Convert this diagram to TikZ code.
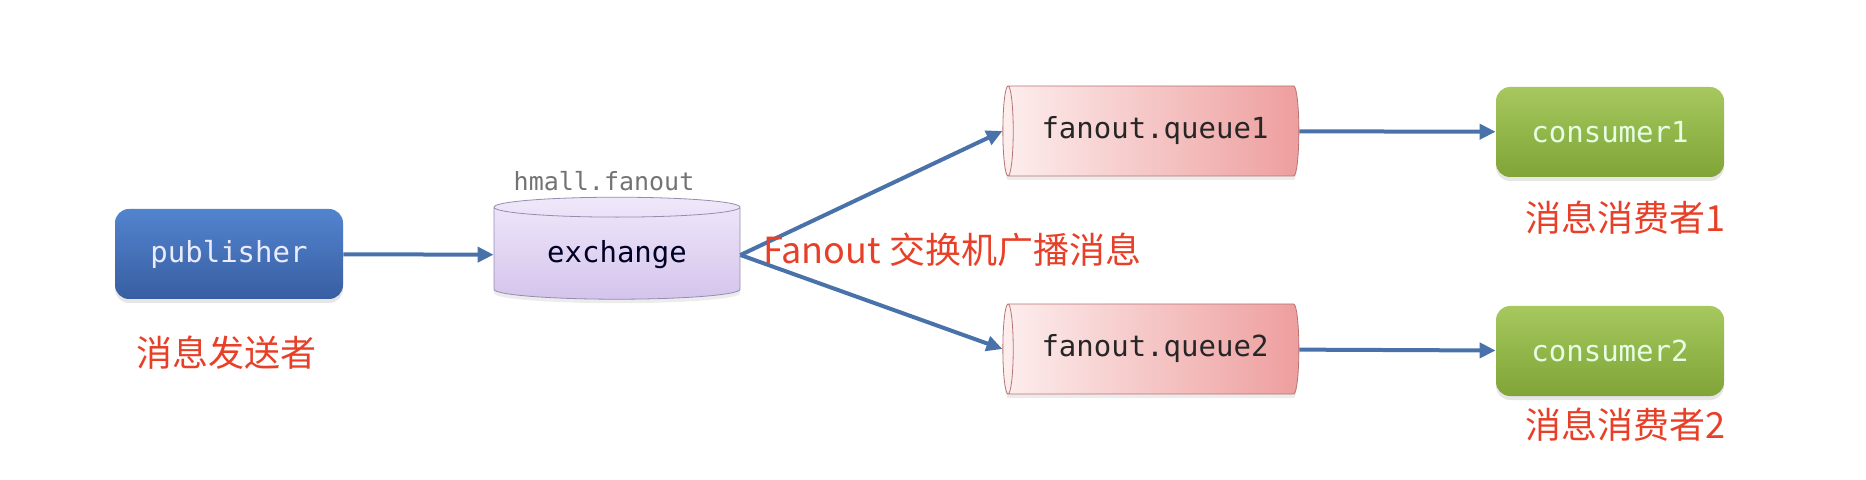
\documentclass[tikz,border=0pt]{standalone}
\usepackage{fontspec}
\setmonofont{DejaVu Sans Mono}
\newfontfamily\cjk{Noto Sans CJK SC}
\usetikzlibrary{shapes.geometric,arrows.meta,shadows}
\definecolor{flowColor}{RGB}{74,114,170}
\definecolor{noteColor}{RGB}{232,64,40}
\definecolor{pubTop}{RGB}{82,132,206}
\definecolor{pubBottom}{RGB}{56,94,162}
\definecolor{exTop}{RGB}{240,232,250}
\definecolor{exBottom}{RGB}{212,196,236}
\definecolor{exBorder}{RGB}{150,140,175}
\definecolor{queueLeft}{RGB}{253,238,238}
\definecolor{queueRight}{RGB}{238,158,158}
\definecolor{queueBorder}{RGB}{185,115,115}
\definecolor{conTop}{RGB}{166,200,94}
\definecolor{conBottom}{RGB}{128,164,56}

\tikzset{
  box/.style={rectangle, rounded corners=7pt, minimum width=114pt, minimum height=45pt,
    font=\ttfamily\fontsize{14.5}{16}\selectfont,
    drop shadow={opacity=0.2, shadow xshift=0pt, shadow yshift=-2pt}},
  queue/.style={cylinder, shape border rotate=180, aspect=0.25, draw=queueBorder,
    left color=queueLeft, right color=queueRight, minimum height=148pt, minimum width=45pt,
    font=\ttfamily\fontsize{14.5}{16}\selectfont, text=black!85,
    drop shadow={opacity=0.15, shadow xshift=0pt, shadow yshift=-2pt}},
  flow/.style={-{Triangle[length=8pt,width=7.5pt]}, line width=2pt, flowColor},
  note/.style={text=noteColor, font=\cjk\fontsize{18}{22}\selectfont}
}

\begin{document}
\begin{tikzpicture}[x=0.5pt, y=-0.5pt]
    \useasboundingbox (0,0) rectangle (1866,480);
    % Fanout flow
    \node[box, top color=pubTop, bottom color=pubBottom, text=white!92!blue] (publisher) at (229,254) {publisher};
    \node[cylinder, shape border rotate=90, aspect=0.13, draw=exBorder, top color=exTop, bottom color=exBottom,
      minimum width=123pt, minimum height=51pt, font=\ttfamily\fontsize{14.5}{16}\selectfont, text=black!85!blue,
      drop shadow={opacity=0.15, shadow xshift=0pt, shadow yshift=-2pt}] (exchange) at (617,255) {exchange};
    \node[text=black!55, font=\ttfamily\fontsize{12.5}{14}\selectfont] (exname) at (604,181) {hmall.fanout};
    \node[queue] (queue1) at (1155,131) {fanout.queue1};
    \node[queue] (queue2) at (1155,349) {fanout.queue2};
    \node[box, top color=conTop, bottom color=conBottom, text=white!90!green] (consumer1) at (1610,132) {consumer1};
    \node[box, top color=conTop, bottom color=conBottom, text=white!90!green] (consumer2) at (1610,351) {consumer2};

    \draw[flow] (publisher) -- (exchange);
    \draw[flow] (exchange.east) -- (queue1.west);
    \draw[flow] (exchange.east) -- (queue2.west);
    \draw[flow] (queue1) -- (consumer1);
    \draw[flow] (queue2) -- (consumer2);

    % notes
    \node[note] (sender) at (226,353) {消息发送者};
    \node[note, anchor=west] (broadcast) at (756,250) {Fanout 交换机广播消息};
    \node[note] (reader1) at (1625,218) {消息消费者1};
    \node[note] (reader2) at (1625,425) {消息消费者2};
\end{tikzpicture}
\end{document}
